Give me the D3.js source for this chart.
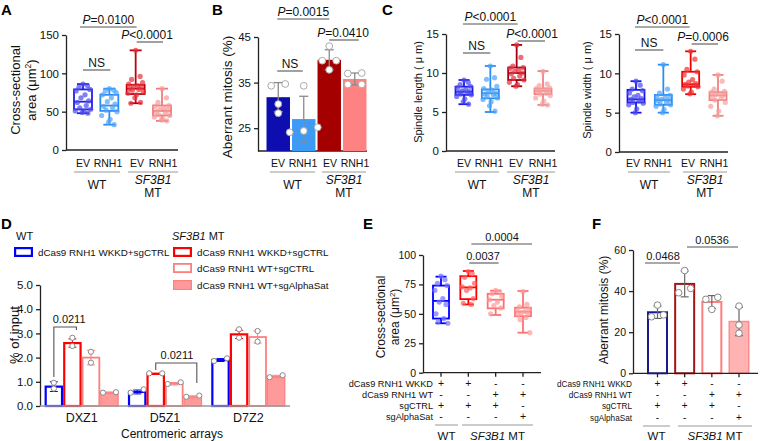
<!DOCTYPE html>
<html><head><meta charset="utf-8">
<script src="https://cdn.jsdelivr.net/npm/d3@7"></script>
<style>body{margin:0;background:#fff} svg{display:block}</style>
</head><body><svg id="chart"></svg>
<script>
// ================= DATA =================
const treatLabels = ["EV","RNH1","EV","RNH1"];
const groupIdx = [0,1,2,3];

// Panel A: cross-sectional area (µm²); box stats [min, q1, median, q3, max]
const areaTicks = [0,50,100,150];
const areaStats = [[48,53,63,79,86],[33,51,58,72,80],[61,73,80,85,130],[38,45,51,58,80]];
const areaPoints = [
  [86,84,82,79,77,72,68,64,62,58,55,53,51,50,49,48],
  [80,78,77,75,72,68,63,60,57,55,52,50,45,40,36,33],
  [130,96,92,88,86,84,83,82,80,79,78,76,74,72,68,62,61],
  [80,68,62,58,57,55,53,52,50,48,46,45,43,41,39,38]
];

// Panel B: aberrant mitosis (%)
const mitosisTicks = [25,35,45];
const mitosisMeans = [31.8,27.0,40.0,35.8];
const mitosisSD = [3.2,5.0,2.2,1.3];
const mitosisPoints = [[34.3,34.7,30.3,28.3],[34.3,24.1,25.2,24.4],[43.0,39.8,39.8,37.8],[37.1,37.0,34.6,34.6]];

// Panel C: spindle length / width (µm)
const spindleTicks = [0,5,10,15];
const lengthStats = [[6.0,7.2,7.6,8.25,9.1],[5.0,6.75,7.4,7.9,10.9],[8.3,9.1,10.0,10.7,13.6],[5.9,7.3,7.7,8.0,10.25]];
const lengthPoints = [
  [9.1,8.8,8.5,8.3,8.1,7.9,7.7,7.6,7.5,7.4,7.3,7.2,7.0,6.7,6.3,6.0],
  [10.9,9.4,9.2,8.3,8.0,7.8,7.6,7.4,7.3,7.2,7.0,6.8,6.6,6.3,5.8,5.1],
  [13.6,12.0,10.9,10.7,10.6,10.4,10.2,10.0,9.9,9.6,9.3,9.1,8.8,8.5,8.3],
  [10.2,8.6,8.4,8.1,8.0,7.9,7.8,7.7,7.6,7.4,7.3,7.1,6.8,6.4,6.0,5.9]
];
const widthStats = [[5.0,6.3,6.7,7.9,9.0],[5.0,6.0,6.6,7.25,11.1],[7.35,8.3,8.6,10.2,12.8],[4.6,6.6,7.2,7.6,9.8]];
const widthPoints = [
  [9.0,8.5,8.0,7.8,7.5,7.2,7.0,6.8,6.7,6.5,6.3,6.2,6.0,5.5,5.0],
  [11.1,8.0,7.5,7.2,7.0,6.9,6.7,6.6,6.5,6.3,6.1,6.0,5.8,5.4,5.0],
  [12.8,11.8,10.5,10.2,9.8,9.2,8.9,8.7,8.6,8.5,8.4,8.3,8.0,7.6,7.4],
  [9.8,9.0,8.0,7.7,7.6,7.4,7.3,7.2,7.0,6.8,6.6,6.3,5.8,5.2,4.6]
];

// Panel D: % of input at centromeric arrays
const dArrays = ["DXZ1","D5Z1","D7Z2"];
const dConditions = ["dCas9 RNH1 WKKD+sgCTRL","dCas9 RNH1 WKKD+sgCTRL","dCas9 RNH1 WT+sgCTRL","dCas9 RNH1 WT+sgAlphaSat"];
const dTicks = [0,1,2,3,4,5];
const dMeans = [[0.80,2.60,2.00,0.55],[0.58,1.33,0.92,0.38],[1.90,2.96,2.85,1.22]];
const dSD = [[0.20,0.17,0.30,0.03],[0.08,0.02,0.05,0.04],[0.06,0.17,0.25,0.05]];
const dPoints = [
  [[0.96,0.72],[2.82,2.48],[2.24,1.79],[0.55,0.57]],
  [[0.55,0.69],[1.35,1.35],[0.91,0.98],[0.38,0.43]],
  [[1.86,1.97],[3.17,2.82],[3.10,2.66],[1.19,1.27]]
];

// Panels E/F: conditions table
const rowLabels = ["dCas9 RNH1 WKKD","dCas9 RNH1 WT","sgCTRL","sgAlphaSat"];
const signs = [["+","+","-","-"],["-","-","+","+"],["+","+","+","-"],["-","-","-","+"]];

// Panel E: cross-sectional area
const eTicks = [0,25,50,75,100];
const eStats = [[42,46,61,74,81.6],[58,62.5,72.5,82,86.4],[49,54.7,62,67,69.7],[34,48,51.8,55.2,69.4]];
const ePoints = [
  [82,79,76,74,70,63,60,58,50,46,43,42],
  [86,84,81,76,73,72,70,63,59,58],
  [70,69,67,65,62,60,57,55,50],
  [69,58,56,54,53,52,51,50,49,47,45,34]
];

// Panel F: aberrant mitosis
const fTicks = [0,20,40,60];
const fMeans = [29.7,43.5,34.7,25.2];
const fSD = [3.0,6.3,3.1,6.9];
const fPoints = [[33.2,27.5,28.4],[50.0,39.2,41.3],[37.0,36.0,31.1],[32.7,23.5,19.5]];

// ================= DRAWING =================
const FONT = '"Liberation Sans", Arial, Helvetica, sans-serif';
const svg = d3.select("#chart").attr("width",760).attr("height",441).attr("font-family",FONT);

function txt(g,x,y,s,o={}) {
  const fs = o.fs||11;
  const t = g.append("text").attr("x",x).attr("y",y).text(s)
    .attr("font-size",fs).attr("text-anchor",o.anchor||"middle").attr("fill",o.fill||"#111");
  if (o.italic) t.attr("font-style","italic");
  if (o.bold) t.attr("font-weight","bold");
  if (fs < 9.5 && s) {
    const w = t.node().getComputedTextLength();
    if (w > 0) t.attr("textLength",w).attr("lengthAdjust","spacing");
  }
  return t;
}
function line(g,x1,y1,x2,y2,c,w){
  return g.append("line").attr("x1",x1).attr("y1",y1).attr("x2",x2).attr("y2",y2)
    .attr("stroke",c||"#222").attr("stroke-width",w||1.2);
}
function yAxis(g,y,x0,ticks,fs){
  const ax = g.append("g").attr("transform",`translate(${x0},0)`)
    .call(d3.axisLeft(y).tickValues(ticks).tickSize(4).tickSizeOuter(0).tickPadding(3));
  ax.attr("font-family",FONT);
  ax.select(".domain").attr("stroke","#222").attr("stroke-width",1.3);
  ax.selectAll(".tick line").attr("stroke","#222").attr("stroke-width",1.3);
  ax.selectAll(".tick text").attr("font-size",fs).attr("fill","#111");
  return ax;
}
function yLabel(g,x,y,lines,fs,lh){
  const t = g.append("text").attr("transform",`translate(${x},${y}) rotate(-90)`)
    .attr("text-anchor","middle").attr("font-size",fs).attr("fill","#111");
  lines.forEach((ln,i)=>{
    const ts = t.append("tspan").attr("x",0).attr("dy", i===0 ? 0 : lh);
    ln.forEach(part=>{
      const p = ts.append("tspan").text(part.t);
      if (part.sup) p.attr("font-size",fs*0.65).attr("baseline-shift","super");
    });
  });
}
function sig(g,x1,x2,yl,label,opts={}){
  line(g,x1,yl,x2,yl,"#555",1.1);
  const t = g.append("text").attr("x",opts.tx!=null?opts.tx:(x1+x2)/2).attr("y",yl-3)
    .attr("text-anchor","middle").attr("font-size",opts.fs||11.5).attr("fill","#111");
  if (opts.p){ t.append("tspan").attr("font-style","italic").text("P"); t.append("tspan").text(label); }
  else t.text(label);
}
const jit = [0,.55,-.5,.85,-.85,.25,-.25,.7,-.7,.4,-.4,.95,-.95,.1,-.1,.6,-.6,.3];
function boxPlot(g,x,y,stats,points,stroke,ptc,bw,capw,sw){
  stats.forEach((s,i)=>{
    const cx = x(i), [mn,q1,md,q3,mx] = s;
    const gg = g.append("g");
    line(gg,cx,y(mx),cx,y(q3),stroke[i],sw);
    line(gg,cx,y(q1),cx,y(mn),stroke[i],sw);
    line(gg,cx-capw/2,y(mx),cx+capw/2,y(mx),stroke[i],sw);
    line(gg,cx-capw/2,y(mn),cx+capw/2,y(mn),stroke[i],sw);
    gg.append("rect").attr("x",cx-bw/2).attr("y",y(q3)).attr("width",bw).attr("height",y(q1)-y(q3))
      .attr("fill","none").attr("stroke",stroke[i]).attr("stroke-width",sw);
    line(gg,cx-bw/2,y(md),cx+bw/2,y(md),stroke[i],sw);
    const pts = points[i].slice().sort((a,b)=>b-a);
    gg.selectAll("circle").data(pts).join("circle")
      .attr("cx",(d,j)=>cx+jit[j%jit.length]*bw*0.45).attr("cy",d=>y(d)).attr("r",2.6)
      .attr("fill",ptc[i]).attr("fill-opacity",0.7);
  });
}
function dodge(vals,y,thr,step){
  const idx = vals.map((v,i)=>i).sort((a,b)=>vals[a]-vals[b]);
  const off = vals.map(()=>0);
  let cl = [idx[0]];
  const flush=()=>{ const k=cl.length; cl.forEach((id,j)=>off[id]=(j-(k-1)/2)*step); };
  for (let j=1;j<idx.length;j++){
    if (Math.abs(y(vals[idx[j]])-y(vals[cl[cl.length-1]]))<thr) cl.push(idx[j]);
    else { flush(); cl=[idx[j]]; }
  }
  flush();
  return off;
}
function dots(g,cx,vals,y,step,r,stroke){
  const off = dodge(vals,y,5,step);
  vals.forEach((v,j)=>{
    g.append("circle").attr("cx",cx+off[j]).attr("cy",y(v)).attr("r",r)
      .attr("fill","#fff").attr("stroke",stroke||"#999").attr("stroke-width",1);
  });
}
function errBar(g,cx,y,m,sd,cw,c,w){
  line(g,cx,y(m+sd),cx,y(m-sd),c,w);
  line(g,cx-cw/2,y(m+sd),cx+cw/2,y(m+sd),c,w);
  line(g,cx-cw/2,y(m-sd),cx+cw/2,y(m-sd),c,w);
}
function groupLabels(g,xs,o){
  xs.forEach((x,i)=>txt(g,x,o.yCat,treatLabels[i],{fs:o.fsCat}));
  const wt=[xs[0]-o.padL,xs[1]+o.padR], mt=[xs[2]-o.padL,xs[3]+o.padR2];
  line(g,wt[0],o.yLine,wt[1],o.yLine,"#999",1);
  line(g,mt[0],o.yLine,mt[1],o.yLine,"#999",1);
  txt(g,(wt[0]+wt[1])/2,o.yWT,"WT",{fs:o.fsGrp});
  txt(g,(mt[0]+mt[1])/2,o.ySF,"SF3B1",{fs:o.fsGrp,italic:true});
  txt(g,(mt[0]+mt[1])/2,o.yMT,"MT",{fs:o.fsGrp});
}
function panelLetter(x,y,s){ txt(svg,x,y,s,{fs:15,bold:true,anchor:"start",fill:"#000"}); }

// ---------- Panel A ----------
{
  const g = svg.append("g");
  panelLetter(1,15,"A");
  const x = d3.scalePoint().domain(groupIdx).range([83,162]);
  const y = d3.scaleLinear().domain([0,150]).range([150,35]);
  yAxis(g,y,66,areaTicks,11.5);
  line(g,66,150,178,150,"#222",1.3);
  yLabel(g,20,90,[[{t:"Cross-sectional"}],[{t:"area (μm"},{t:"2",sup:true},{t:")"}]],13,16);
  boxPlot(g,x,y,areaStats,areaPoints,["#1f1fe6","#2b8cf5","#c00010","#f07a7a"],["#4a4af0","#4da3f7","#e8303a","#f59a9a"],18,12,1.8);
  sig(g,x(0)-3,x(2)+1,27,"=0.0100",{p:true,fs:12});
  sig(g,x(2)+1,x(3)+1,42,"<0.0001",{p:true,fs:12,tx:147});
  sig(g,x(0),x(1)+1,70,"NS",{fs:12});
  groupLabels(g,[83,108,137,163],{yCat:167,yLine:172,yWT:189,ySF:184,yMT:197,fsCat:10.5,fsGrp:12,padL:9,padR:12,padR2:15});
}
// ---------- Panel B ----------
{
  const g = svg.append("g");
  panelLetter(212,15,"B");
  const x = d3.scaleBand().domain(groupIdx).range([266,367]).paddingInner(0.08).paddingOuter(0.02);
  const y = d3.scaleLinear().domain([20,45]).range([151,37]);
  yAxis(g,y,258,mitosisTicks,11.5);
  line(g,258,151,367,151,"#222",1.3);
  yLabel(g,232,97,[[{t:"Aberrant mitosis (%)"}]],13.5,16);
  const fills = ["#0d0db0","#3d9af5","#a50000","#ff8282"];
  mitosisMeans.forEach((m,i)=>{
    g.append("rect").attr("x",x(i)).attr("y",y(m)).attr("width",x.bandwidth()).attr("height",y(20)-y(m)).attr("fill",fills[i]);
  });
  mitosisMeans.forEach((m,i)=>errBar(g,x(i)+x.bandwidth()/2,y,m,mitosisSD[i],9,"#8a8a8a",1.3));
  mitosisPoints.forEach((p,i)=>dots(g,x(i)+x.bandwidth()/2,p,y,14,3.4,"#aaa"));
  const c = i=>x(i)+x.bandwidth()/2;
  sig(g,c(0)-1,c(2),19,"=0.0015",{p:true,fs:12});
  sig(g,c(2),c(3)+4,40,"=0.0410",{p:true,fs:12,tx:343});
  sig(g,c(0)-1,c(1)-1,71,"NS",{fs:12});
  groupLabels(g,[278,303,330,355],{yCat:167,yLine:172,yWT:189,ySF:184,yMT:197,fsCat:10.5,fsGrp:12,padL:8,padR:12,padR2:11});
}
// ---------- Panel C (length) ----------
{
  const g = svg.append("g");
  panelLetter(382,15,"C");
  const x = d3.scalePoint().domain(groupIdx).range([464,543]);
  const y = d3.scaleLinear().domain([0,15]).range([151,34]);
  yAxis(g,y,446,spindleTicks,11.5);
  line(g,446,151,555,151,"#222",1.3);
  yLabel(g,422,92,[[{t:"Spindle length ( μ m)"}]],11,14);
  boxPlot(g,x,y,lengthStats,lengthPoints,["#1a1ae8","#2b8cf5","#a0000f","#f28080"],["#4a4af0","#4da3f7","#e03040","#f5a0a0"],17,11,1.8);
  sig(g,x(0)-1,x(2)+1,24,"<0.0001",{p:true,fs:12});
  sig(g,x(2)+1,x(3)+2,41,"<0.0001",{p:true,fs:12,tx:532});
  sig(g,x(0)-1,x(1),53,"NS",{fs:12});
  groupLabels(g,[464,489,516,543],{yCat:167,yLine:172,yWT:189,ySF:184,yMT:197,fsCat:10.5,fsGrp:12,padL:9,padR:10,padR2:12});
}
// ---------- Panel C (width) ----------
{
  const g = svg.append("g");
  const x = d3.scalePoint().domain(groupIdx).range([636,718]);
  const y = d3.scaleLinear().domain([0,15]).range([152,34]);
  yAxis(g,y,619,spindleTicks,11.5);
  line(g,619,152,728,152,"#222",1.3);
  yLabel(g,591,90,[[{t:"Spindle width ( μ m)"}]],11,14);
  boxPlot(g,x,y,widthStats,widthPoints,["#1414ee","#2b8cf5","#ee0000","#f28080"],["#4a4af0","#4da3f7","#f03030","#f5a0a0"],17,11,1.8);
  sig(g,x(0)-1,x(2)-1,27,"<0.0001",{p:true,fs:12});
  sig(g,x(2)+1,x(3),44,"=0.0006",{p:true,fs:12,tx:703});
  sig(g,x(0)-1,x(1),50,"NS",{fs:12});
  groupLabels(g,[633,658,688,714],{yCat:167,yLine:172,yWT:189,ySF:184,yMT:197,fsCat:10.5,fsGrp:12,padL:5,padR:12,padR2:13});
}
// ---------- Panel D ----------
{
  const g = svg.append("g");
  panelLetter(1,229,"D");
  const x0 = d3.scaleBand().domain(dArrays).range([40,290]).paddingInner(0.11).paddingOuter(0.055);
  const x1 = d3.scaleBand().domain([0,1,2,3]).range([0,x0.bandwidth()]);
  const y = d3.scaleLinear().domain([0,5]).range([406,285]);
  const stroke = ["#0000ff","#ff0000","#ff7f7f","#ff8080"];
  const fill = ["#fff","#fff","#fff","#ff9a9a"];
  const sw = [2.2,2.2,1.8,1.2];
  dArrays.forEach((a,ai)=>{
    dMeans[ai].forEach((m,ci)=>{
      const bx = x0(a)+x1(ci), bw = x1.bandwidth();
      g.append("rect").attr("x",bx+sw[ci]/2).attr("y",y(m)).attr("width",bw-sw[ci]).attr("height",y(0)-y(m))
        .attr("fill",fill[ci]).attr("stroke",stroke[ci]).attr("stroke-width",sw[ci]);
      errBar(g,bx+bw/2,y,m,dSD[ai][ci],8,stroke[ci],1);
      dots(g,bx+bw/2,dPoints[ai][ci],y,13,2.6,"#888");
    });
  });
  yAxis(g,y,40,dTicks,11.5);
  line(g,40,406,290,406,"#999",1.5);
  dArrays.forEach(a=>txt(g,x0(a)+x0.bandwidth()/2,422,a,{fs:12.5}));
  txt(g,172,438,"Centromeric arrays",{fs:12});
  yLabel(g,19,335,[[{t:"% of input"}]],13,16);
  const cx = (a,c)=>x0(a)+x1(c)+x1.bandwidth()/2;
  g.append("path").attr("d",`M${cx("DXZ1",0)},377V327H${cx("DXZ1",1)+4}V330`).attr("fill","none").attr("stroke","#555").attr("stroke-width",1.1);
  txt(g,(cx("DXZ1",0)+cx("DXZ1",1))/2+6,323,"0.0211",{fs:11});
  g.append("path").attr("d",`M${cx("D5Z1",1)},370V363H${cx("D5Z1",3)+4}V383`).attr("fill","none").attr("stroke","#555").attr("stroke-width",1.1);
  txt(g,177,359,"0.0211",{fs:11});
  // legend
  txt(g,16,240,"WT",{fs:11,anchor:"start"});
  const tSF = txt(g,172,240,"",{fs:11,anchor:"start"});
  tSF.append("tspan").attr("font-style","italic").text("SF3B1");
  tSF.append("tspan").text(" MT");
  const leg = [[14,247,0],[173,247,1],[173,263,2],[173,280,3]];
  leg.forEach(([lx,ly,ci])=>{
    g.append("rect").attr("x",lx+sw[ci]/2).attr("y",ly+sw[ci]/2).attr("width",19-sw[ci]).attr("height",10-sw[ci])
      .attr("fill",fill[ci]).attr("stroke",stroke[ci]).attr("stroke-width",sw[ci]);
    txt(g,lx+24,ly+9,dConditions[ci],{fs:9.8,anchor:"start"});
  });
}
// ---------- conditions table helper ----------
function condTable(g,x,labelX,rowY,fsLab,fsSign,lineY,wt,mt,grpY,fsGrp){
  rowLabels.forEach((lab,r)=>{
    txt(g,labelX,rowY[r],lab,{fs:fsLab,anchor:"end"});
    signs[r].forEach((s,c)=>txt(g,x(c),rowY[r],s,{fs:fsSign}));
  });
  line(g,wt[0],lineY,wt[1],lineY,"#999",1);
  line(g,mt[0],lineY,mt[1],lineY,"#999",1);
  txt(g,(wt[0]+wt[1])/2,grpY,"WT",{fs:fsGrp});
  const t = txt(g,(mt[0]+mt[1])/2,grpY,"",{fs:fsGrp});
  t.append("tspan").attr("font-style","italic").text("SF3B1");
  t.append("tspan").text(" MT");
}
function xTicksDown(g,x,yb){ groupIdx.forEach(i=>line(g,x(i),yb,x(i),yb+4,"#222",1.3)); }
// ---------- Panel E ----------
{
  const g = svg.append("g");
  panelLetter(363,229,"E");
  const x = d3.scalePoint().domain(groupIdx).range([441,523]);
  const y = d3.scaleLinear().domain([0,100]).range([372.7,255]);
  yAxis(g,y,423,eTicks,10.5);
  line(g,423,372.7,541,372.7,"#222",1.3);
  xTicksDown(g,x,372.7);
  yLabel(g,385,317,[[{t:"Cross-sectional"}],[{t:"area (μm"},{t:"2",sup:true},{t:")"}]],12,14);
  boxPlot(g,x,y,eStats,ePoints,["#0000ff","#ff0000","#ff7070","#ff7070"],["#6f6fff","#ff5c5c","#ff9a9a","#ff9a9a"],16,11,1.8);
  sig(g,x(1)+3,x(3)+9,244,"0.0004",{fs:11,tx:502});
  sig(g,x(1)+1,x(2)+3,263,"0.0037",{fs:11,tx:483});
  condTable(g,x,433,[387,398,409,420],9.2,10.5,425,[435,458],[462,533],440,11.5);
}
// ---------- Panel F ----------
{
  const g = svg.append("g");
  panelLetter(592,229,"F");
  const x = d3.scalePoint().domain(groupIdx).range([657.5,739]);
  const y = d3.scaleLinear().domain([0,60]).range([373.3,250]);
  const bw = 21;
  const stroke = ["#1a1a8c","#a01515","#ff7f7f","#ff8c8c"];
  const fill = ["#fff","#fff","#fff","#ffb3b3"];
  const sw = [2,2,2,1.5];
  fMeans.forEach((m,i)=>{
    g.append("rect").attr("x",x(i)-bw/2+sw[i]/2).attr("y",y(m)).attr("width",bw-sw[i]).attr("height",y(0)-y(m))
      .attr("fill",fill[i]).attr("stroke",stroke[i]).attr("stroke-width",sw[i]);
  });
  fMeans.forEach((m,i)=>errBar(g,x(i),y,m,fSD[i],8,"#666",1.2));
  fPoints.forEach((p,i)=>dots(g,x(i),p,y,12,3.3,"#888"));
  yAxis(g,y,633,fTicks,10.5);
  line(g,633,373.3,758,373.3,"#222",1.3);
  xTicksDown(g,x,373.3);
  yLabel(g,608,310,[[{t:"Aberrant mitosis (%)"}]],12,14);
  sig(g,645,680,263,"0.0468",{fs:11,tx:663});
  sig(g,687,738,247,"0.0536",{fs:11,tx:712});
  condTable(g,x,632,[387,398,409,421],8.2,10,426,[643,670],[678,752],440,11.5);
}
</script></body></html>
